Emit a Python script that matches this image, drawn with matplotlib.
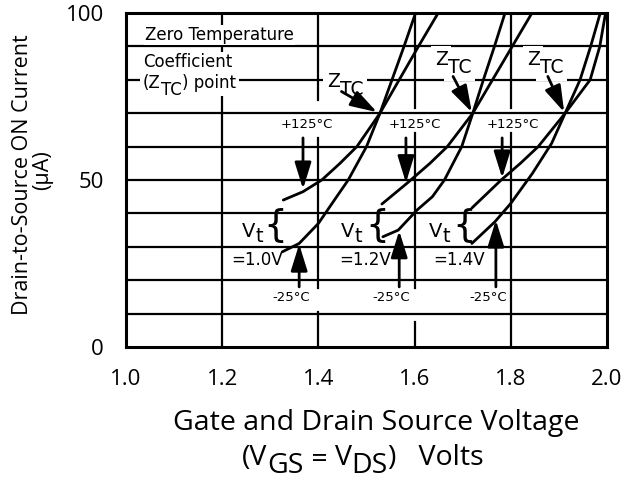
import matplotlib
matplotlib.use("Agg")
import matplotlib.pyplot as plt
from matplotlib.transforms import IdentityTransform

# curve data: (V, uA) per Vt and temperature
cold1_v = [1.325, 1.36, 1.40, 1.438, 1.462, 1.50, 1.528, 1.553, 1.578, 1.602]
cold1_i = [28.5, 31, 37, 45, 50, 60, 70, 80, 90, 100]
hot1_v = [1.327, 1.368, 1.407, 1.445, 1.48, 1.528, 1.568, 1.608, 1.649]
hot1_i = [44, 46.5, 50, 55, 60, 70, 80, 90, 100]

cold2_v = [1.534, 1.566, 1.605, 1.637, 1.662, 1.698, 1.721, 1.743, 1.766, 1.788]
cold2_i = [33, 35, 41, 45, 50, 60, 70, 80, 90, 100]
hot2_v = [1.532, 1.584, 1.632, 1.668, 1.721, 1.762, 1.803, 1.844]
hot2_i = [42.8, 49, 55, 60, 70, 80, 90, 100]

cold3_v = [1.719, 1.767, 1.80, 1.845, 1.885, 1.913, 1.944, 1.966, 1.986]
cold3_i = [31, 37.5, 43, 52, 61, 70, 80, 90, 100]
hot3_v = [1.719, 1.78, 1.82, 1.857, 1.913, 1.965, 1.985, 1.997]
hot3_i = [41.6, 50, 55, 60, 70, 80, 90, 100]

vt_labels = ["=1.0V", "=1.2V", "=1.4V"]
xticks = [1.0, 1.2, 1.4, 1.6, 1.8, 2.0]
yticks = [0, 50, 100]

W, H = 627, 484
LAB = "DejaVu Sans"   # annotation font
AXF = "Open Sans"     # axis font

plt.rcParams["font.family"] = [AXF, "DejaVu Sans"]

fig = plt.figure(figsize=(W/100, H/100), dpi=100)
ax = fig.add_axes([126/W, 1-347/H, 481/W, 334/H])
ax.set_xlim(1.0, 2.0)
ax.set_ylim(0, 100)
rend = fig.canvas.get_renderer()

white = dict(facecolor="white", edgecolor="none", pad=0.6)
white_big = dict(facecolor="white", edgecolor="none", pad=2.5)


def chain(x, y, parts, size, family=LAB, bbox=None):
    # pieces of text side by side, y in pixels from the top, dy shifts a piece down
    for s, dy in parts:
        kw = dict(fontsize=size, family=family, ha="left", va="baseline",
                  transform=IdentityTransform())
        if bbox:
            # white patch underneath every piece, text itself drawn above
            ax.text(x, H - y - dy, s, color="white", bbox=bbox, zorder=2.9, **kw)
        t = ax.text(x, H - y - dy, s, zorder=3, **kw)
        x = t.get_window_extent(rend).x1
    return x


# grid
for y in range(10, 100, 10):
    ax.axhline(y, color="k", lw=1.6, zorder=1)
vsegs = {1.2: [(0, 100)],
         1.4: [(0, 10.5), (17.7, 62.6), (74, 100)],
         1.6: [(0, 7.5), (17.7, 64), (71.5, 100)],
         1.8: [(0, 64), (71.5, 100)]}
for x, segs in vsegs.items():
    for a, b in segs:
        ax.plot([x, x], [a, b], color="k", lw=1.6, zorder=1)

for s in ax.spines.values():
    s.set_linewidth(2.2)

# curves
for v, i in [(cold1_v, cold1_i), (hot1_v, hot1_i), (cold2_v, cold2_i),
             (hot2_v, hot2_i), (cold3_v, cold3_i), (hot3_v, hot3_i)]:
    ax.plot(v, i, color="k", lw=2.0, zorder=4, solid_capstyle="round",
            solid_joinstyle="round")

ax.set_xticks(xticks)
ax.set_xticklabels([f"{t:.1f}" for t in xticks])
ax.set_yticks(yticks)
ax.tick_params(length=0, labelsize=16, pad=16)

# text box upper left
chain(145, 40, [("Zero Temperature", 0)], 12, bbox=white)
chain(143, 67, [("Coefficient", 0)], 12, bbox=white)
chain(143, 88, [("(Z", 0), ("TC", 7), (") point", 0)], 12, bbox=white_big)

big_arrow = dict(arrowstyle="-|>,head_length=0.9,head_width=0.28", color="k", lw=2,
                 mutation_scale=18, shrinkA=0, shrinkB=0)

# ZTC labels and arrows
for zx, zy in [(327, 87), (435, 65), (527, 65)]:
    chain(zx, zy, [("Z", 0), ("TC", 8)], 13.5, bbox=white_big)
for tail, tip in [((1.448, 76.5), (1.522, 70.3)),
                  ((1.68, 81), (1.719, 70.3)),
                  ((1.877, 81), (1.911, 70.3))]:
    ax.annotate("", xy=tip, xytext=tail, arrowprops=big_arrow, zorder=5)

# +125C labels
for lx, ax_x, tip in [(1.375, 1.368, 47.3), (1.60, 1.582, 49.2), (1.805, 1.782, 50.6)]:
    ax.text(lx, 66.5, "+125°C", fontsize=9.5, family=LAB, ha="center", va="center", zorder=3)
    ax.annotate("", xy=(ax_x, tip), xytext=(ax_x, 62.6), arrowprops=big_arrow, zorder=5)

# -25C labels
for lx, ax_x, tip in [(1.343, 1.36, 30.8), (1.551, 1.568, 34.8), (1.753, 1.769, 38.0)]:
    ax.text(lx, 14.8, "-25°C", fontsize=9.5, family=LAB, ha="center", va="center", zorder=3)
    ax.annotate("", xy=(ax_x, tip), xytext=(ax_x, 18.0), arrowprops=big_arrow, zorder=5)

# Vt labels with braces
for vx, bx, lab_x, lab in zip([242, 341, 429], [1.31, 1.522, 1.703],
                              [1.272, 1.497, 1.692], vt_labels):
    chain(vx, 237, [("V", 0), ("t", 5)], 14)
    ax.text(bx, 36.3, "{", fontsize=27, family=LAB, ha="center", va="center", zorder=3)
    ax.text(lab_x, 26, lab, fontsize=12, family=LAB, ha="center", va="center", zorder=3)

# axis labels
fig.text(376/W, 1-423/H, "Gate and Drain Source Voltage", fontsize=20.5,
         family=AXF, ha="center", va="center")
chain(242, 465, [("(V", 0), ("GS", 8), (" = ", 2), ("V", 0), ("DS", 8), (")   Volts", 0)],
      20.5, family=AXF)
fig.text(23/W, 1-175/H, "Drain-to-Source ON Current", fontsize=15.5, rotation=90,
         ha="center", va="center")
fig.text(43/W, 1-170/H, "(μA)", fontsize=15.5, rotation=90, ha="center", va="center")

fig.savefig("out.png", dpi=100)
